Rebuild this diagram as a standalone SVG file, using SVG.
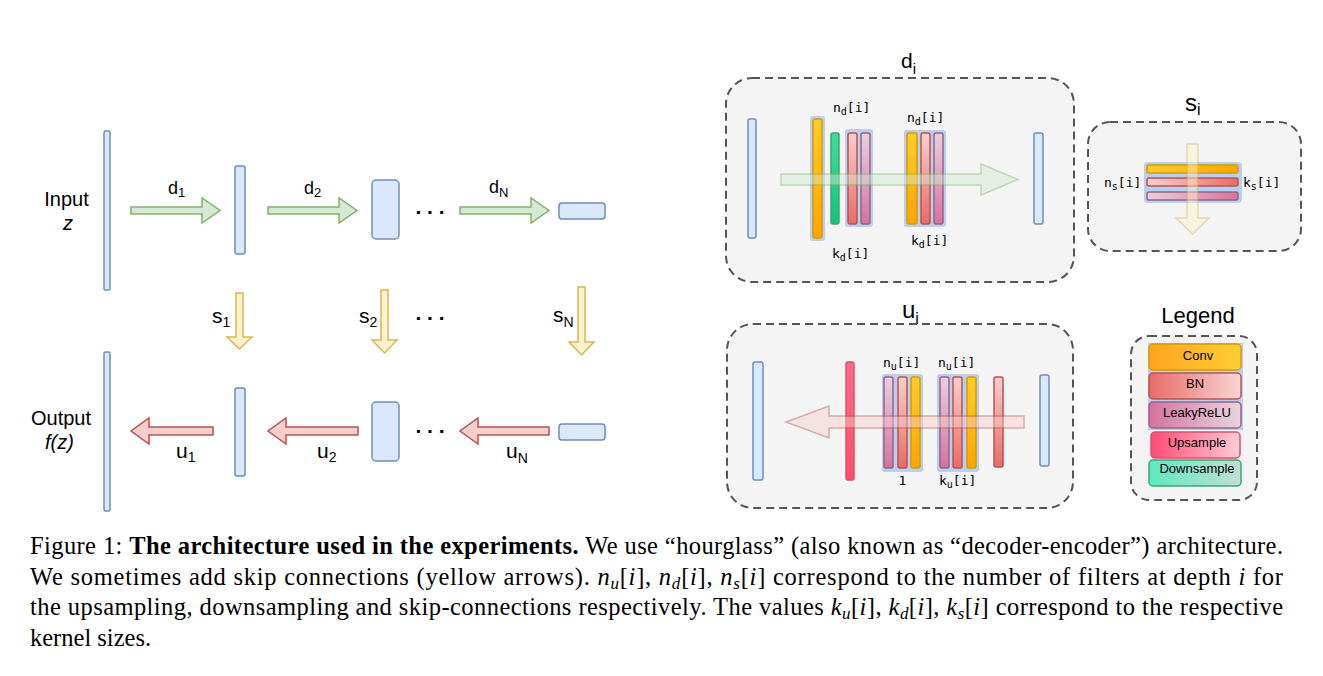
<svg xmlns="http://www.w3.org/2000/svg" width="1323" height="676" viewBox="0 0 1323 676">
<defs>
<style>
.blue{fill:#dae8fc;stroke:#6c8ebf;stroke-width:1.5}
.ga{fill:#d5e8d4;stroke:#82b366;stroke-width:1.5}
.ya{fill:#fff2cc;stroke:#d6b656;stroke-width:1.5}
.ra{fill:#f8cecc;stroke:#b85450;stroke-width:1.5}
.lbl{font-family:"Liberation Sans",Arial,sans-serif;fill:#000}
.mono{font-family:"DejaVu Sans Mono","Liberation Mono",monospace;font-size:13px;fill:#000}
.box{fill:#f4f4f4;stroke:#555;stroke-width:2;stroke-dasharray:8 5}
.hl{fill:#b9cff2}
.conv{stroke:#d79b00;stroke-width:1.5}
.bn{stroke:#b85450;stroke-width:1.5}
.lr{stroke:#996185;stroke-width:1.5}
.up{stroke:#d6536c;stroke-width:1.5}
.down{stroke:#3aa873;stroke-width:1.5}
.cap{font-family:"Liberation Serif","Times New Roman",serif;font-size:24.5px;fill:#000}
.it{font-style:italic}
.dots{font-family:"Liberation Sans",Arial,sans-serif;font-size:21px;font-weight:bold;fill:#000}
</style>
<linearGradient id="convV" x1="0" y1="0" x2="0" y2="1"><stop offset="0" stop-color="#ffcd28"/><stop offset="1" stop-color="#ffa500"/></linearGradient>
<linearGradient id="bnV" x1="0" y1="0" x2="0" y2="1"><stop offset="0" stop-color="#f8cecc"/><stop offset="1" stop-color="#ea6b66"/></linearGradient>
<linearGradient id="lrV" x1="0" y1="0" x2="0" y2="1"><stop offset="0" stop-color="#e6d0de"/><stop offset="1" stop-color="#d5739d"/></linearGradient>
<linearGradient id="downV" x1="0" y1="0" x2="0" y2="1"><stop offset="0" stop-color="#40dc98"/><stop offset="1" stop-color="#14c27e"/></linearGradient>
<linearGradient id="upV" x1="0" y1="0" x2="0" y2="1"><stop offset="0" stop-color="#ff6a86"/><stop offset="1" stop-color="#ff4d6e"/></linearGradient>
<linearGradient id="convH" x1="0" y1="0" x2="1" y2="0"><stop offset="0" stop-color="#ffcd28"/><stop offset="1" stop-color="#ffa500"/></linearGradient>
<linearGradient id="bnH" x1="0" y1="0" x2="1" y2="0"><stop offset="0" stop-color="#f8cecc"/><stop offset="1" stop-color="#ea6b66"/></linearGradient>
<linearGradient id="lrH" x1="0" y1="0" x2="1" y2="0"><stop offset="0" stop-color="#e6d0de"/><stop offset="1" stop-color="#d5739d"/></linearGradient>
<linearGradient id="convL" x1="0" y1="0" x2="1" y2="0"><stop offset="0" stop-color="#ffa520"/><stop offset="1" stop-color="#ffcd32"/></linearGradient>
<linearGradient id="bnL" x1="0" y1="0" x2="1" y2="0"><stop offset="0" stop-color="#ea6b66"/><stop offset="1" stop-color="#f8d6d4"/></linearGradient>
<linearGradient id="lrL" x1="0" y1="0" x2="1" y2="0"><stop offset="0" stop-color="#d5739d"/><stop offset="1" stop-color="#e8d4e0"/></linearGradient>
<linearGradient id="upL" x1="0" y1="0" x2="1" y2="0"><stop offset="0" stop-color="#ff4a74"/><stop offset="1" stop-color="#ffccd8"/></linearGradient>
<linearGradient id="downL" x1="0" y1="0" x2="1" y2="0"><stop offset="0" stop-color="#5ee8c0"/><stop offset="1" stop-color="#c2ded0"/></linearGradient>
</defs>
<rect width="1323" height="676" fill="#fff"/>

<!-- left network nodes -->
<g id="input">
<rect class="blue" x="104" y="131" width="6" height="159" rx="1.5"/>
<text class="lbl" x="66.5" y="206" font-size="20" text-anchor="middle">Input</text>
<text class="lbl it" x="68" y="230" font-size="20" text-anchor="middle">z</text>
</g>
<g id="enc1"><rect class="blue" x="235" y="166" width="10" height="88" rx="2"/></g>
<g id="enc2"><rect class="blue" x="372" y="180" width="27" height="59" rx="4"/></g>
<g id="encN"><rect class="blue" x="559" y="203" width="46" height="16" rx="3"/></g>
<g id="output">
<rect class="blue" x="104" y="352" width="6" height="159" rx="1.5"/>
<text class="lbl" x="61" y="425" font-size="20" text-anchor="middle">Output</text>
<text class="lbl it" x="59.5" y="449" font-size="20" text-anchor="middle">f(z)</text>
</g>
<g id="dec1"><rect class="blue" x="235" y="388" width="10" height="88" rx="2"/></g>
<g id="dec2"><rect class="blue" x="372" y="402" width="27" height="59" rx="4"/></g>
<g id="decN"><rect class="blue" x="559" y="424" width="46" height="16" rx="3"/></g>
<g id="ellipses">
<text class="dots" x="430" y="214" text-anchor="middle">. . .</text>
<text class="dots" x="430" y="320" text-anchor="middle">. . .</text>
<text class="dots" x="430" y="433" text-anchor="middle">. . .</text>
</g>

<!-- connectors -->
<g id="connectors">
<polygon class="ga" points="131,207 202,207 202,198 220,210.5 202,223 202,214 131,214"/>
<polygon class="ga" points="268,207 339,207 339,198 357,210.5 339,223 339,214 268,214"/>
<polygon class="ga" points="460,207 531,207 531,198 549,210.5 531,223 531,214 460,214"/>
<text class="lbl" x="168" y="194" font-size="18">d<tspan font-size="13" dy="3">1</tspan></text>
<text class="lbl" x="304" y="194" font-size="18">d<tspan font-size="13" dy="3">2</tspan></text>
<text class="lbl" x="489" y="193" font-size="18">d<tspan font-size="13" dy="4">N</tspan></text>

<polygon class="ya" points="236,293 243,293 243,337 252,337 239.5,349 227,337 236,337"/>
<polygon class="ya" points="381,290 388,290 388,340 397,340 384.5,353 372,340 381,340"/>
<polygon class="ya" points="578,287 585,287 585,342 594,342 581.5,355 569,342 578,342"/>
<text class="lbl" x="212" y="323" font-size="21">s<tspan font-size="14" dy="4">1</tspan></text>
<text class="lbl" x="359" y="323" font-size="21">s<tspan font-size="14" dy="4">2</tspan></text>
<text class="lbl" x="553" y="322" font-size="21">s<tspan font-size="14" dy="5">N</tspan></text>

<polygon class="ra" points="213,427 149,427 149,418 131,431 149,444 149,435 213,435"/>
<polygon class="ra" points="358,427 286,427 286,418 268,431 286,444 286,435 358,435"/>
<polygon class="ra" points="549,427 478,427 478,418 460,431 478,444 478,435 549,435"/>
<text class="lbl" x="176" y="458" font-size="21">u<tspan font-size="14" dy="4">1</tspan></text>
<text class="lbl" x="317" y="458" font-size="21">u<tspan font-size="14" dy="4">2</tspan></text>
<text class="lbl" x="506" y="458" font-size="21">u<tspan font-size="14" dy="5">N</tspan></text>
</g>

<!-- d_i panel -->
<g id="d_i">
<text class="lbl" x="901" y="68" font-size="21">d<tspan font-size="15" dy="6">i</tspan></text>
<rect class="box" x="726" y="78" width="348" height="204" rx="26"/>
<rect class="blue" x="748" y="119" width="8" height="119" rx="2"/>
<rect class="hl" x="810" y="116" width="15" height="125" rx="3"/>
<rect class="conv" fill="url(#convV)" x="813" y="119" width="9" height="119" rx="2"/>
<rect class="down" fill="url(#downV)" x="831" y="133" width="8" height="91" rx="2"/>
<rect class="hl" x="845" y="129" width="28" height="98" rx="3"/>
<rect class="bn" fill="url(#bnV)" x="848" y="133" width="9" height="91" rx="2"/>
<rect class="lr" fill="url(#lrV)" x="861" y="133" width="9" height="91" rx="2"/>
<rect class="hl" x="904" y="130" width="42" height="97" rx="3"/>
<rect class="conv" fill="url(#convV)" x="907" y="133" width="10" height="91" rx="2"/>
<rect class="bn" fill="url(#bnV)" x="921" y="133" width="9" height="91" rx="2"/>
<rect class="lr" fill="url(#lrV)" x="934" y="133" width="9" height="91" rx="2"/>
<rect class="blue" x="1034" y="133" width="9" height="91" rx="2"/>
<polygon class="ga" opacity="0.45" points="781,174 981,174 981,164 1018,179.5 981,195 981,185 781,185"/>
<text class="mono" x="833" y="112">n<tspan font-size="10" dy="3">d</tspan><tspan dy="-3">[i]</tspan></text>
<text class="mono" x="832" y="258">k<tspan font-size="10" dy="3">d</tspan><tspan dy="-3">[i]</tspan></text>
<text class="mono" x="907" y="122">n<tspan font-size="10" dy="3">d</tspan><tspan dy="-3">[i]</tspan></text>
<text class="mono" x="911" y="245">k<tspan font-size="10" dy="3">d</tspan><tspan dy="-3">[i]</tspan></text>
</g>

<!-- s_i panel -->
<g id="s_i">
<text class="lbl" x="1185" y="111" font-size="24">s<tspan font-size="16" dy="4">i</tspan></text>
<rect class="box" x="1088" y="122" width="213" height="129" rx="22"/>
<rect class="hl" x="1144" y="162" width="98" height="41" rx="4"/>
<rect class="conv" fill="url(#convH)" x="1147" y="165" width="91" height="8" rx="2"/>
<rect class="bn" fill="url(#bnH)" x="1147" y="178" width="91" height="8" rx="2"/>
<rect class="lr" fill="url(#lrH)" x="1147" y="192" width="91" height="8" rx="2"/>
<polygon class="ya" opacity="0.45" points="1187,144 1198,144 1198,218 1209,218 1192.5,234 1176,218 1187,218"/>
<text class="mono" x="1104" y="186.5">n<tspan font-size="10" dy="3">s</tspan><tspan dy="-3">[i]</tspan></text>
<text class="mono" x="1243" y="186.5">k<tspan font-size="10" dy="3">s</tspan><tspan dy="-3">[i]</tspan></text>
</g>

<!-- u_i panel -->
<g id="u_i">
<text class="lbl" x="902" y="318" font-size="24">u<tspan font-size="16" dy="6">i</tspan></text>
<rect class="box" x="727" y="324" width="346" height="184" rx="26"/>
<rect class="blue" x="753" y="362" width="10" height="118" rx="2"/>
<rect class="up" fill="url(#upV)" x="846" y="362" width="8" height="118" rx="2"/>
<rect class="hl" x="882" y="374" width="41" height="98" rx="3"/>
<rect class="lr" fill="url(#lrV)" x="884" y="377" width="9" height="91" rx="2"/>
<rect class="bn" fill="url(#bnV)" x="898" y="377" width="9" height="91" rx="2"/>
<rect class="conv" fill="url(#convV)" x="911" y="377" width="9" height="91" rx="2"/>
<rect class="hl" x="937" y="374" width="42" height="98" rx="3"/>
<rect class="lr" fill="url(#lrV)" x="940" y="377" width="9" height="91" rx="2"/>
<rect class="bn" fill="url(#bnV)" x="953" y="377" width="9" height="91" rx="2"/>
<rect class="conv" fill="url(#convV)" x="967" y="377" width="9" height="91" rx="2"/>
<rect class="bn" fill="url(#bnV)" x="994" y="377" width="9" height="90" rx="2"/>
<rect class="blue" x="1040" y="375" width="9" height="91" rx="2"/>
<polygon class="ra" opacity="0.45" points="1024,416 829,416 829,406 786,422 829,438 829,428 1024,428"/>
<text class="mono" x="883" y="367">n<tspan font-size="10" dy="3">u</tspan><tspan dy="-3">[i]</tspan></text>
<text class="mono" x="938" y="367">n<tspan font-size="10" dy="3">u</tspan><tspan dy="-3">[i]</tspan></text>
<text class="mono" x="902.5" y="485" text-anchor="middle">1</text>
<text class="mono" x="939" y="485">k<tspan font-size="10" dy="3">u</tspan><tspan dy="-3">[i]</tspan></text>
</g>

<!-- legend -->
<g id="legend">
<text class="lbl" x="1198" y="323" font-size="22" text-anchor="middle">Legend</text>
<rect class="box" x="1131" y="336" width="126" height="164" rx="18"/>
<rect class="hl" x="1148" y="343" width="95" height="87"/>
<rect class="conv" fill="url(#convL)" x="1149" y="344" width="92" height="26" rx="4"/>
<rect class="bn" fill="url(#bnL)" x="1149" y="373" width="92" height="26" rx="4"/>
<rect class="lr" fill="url(#lrL)" x="1149" y="402" width="92" height="26" rx="4"/>
<rect class="up" fill="url(#upL)" x="1151" y="432" width="89" height="26" rx="4"/>
<rect class="down" fill="url(#downL)" x="1149" y="460" width="92" height="26" rx="4"/>
<text class="lbl" x="1198" y="360" font-size="13" text-anchor="middle">Conv</text>
<text class="lbl" x="1195" y="388" font-size="13" text-anchor="middle">BN</text>
<text class="lbl" x="1197" y="417" font-size="13" text-anchor="middle">LeakyReLU</text>
<text class="lbl" x="1197" y="447" font-size="13" text-anchor="middle">Upsample</text>
<text class="lbl" x="1197" y="473" font-size="13" text-anchor="middle">Downsample</text>
</g>

<!-- caption -->
<g id="caption">
<text class="cap" x="30" y="554" textLength="1253" lengthAdjust="spacing">Figure 1: <tspan font-weight="bold">The architecture used in the experiments.</tspan> We use “hourglass” (also known as “decoder-encoder”) architecture.</text>
<text class="cap" x="30" y="584.5" textLength="1253" lengthAdjust="spacing">We sometimes add skip connections (yellow arrows). <tspan class="it">n</tspan><tspan class="it" font-size="17" dy="4">u</tspan><tspan dy="-4">[</tspan><tspan class="it">i</tspan>], <tspan class="it">n</tspan><tspan class="it" font-size="17" dy="4">d</tspan><tspan dy="-4">[</tspan><tspan class="it">i</tspan>], <tspan class="it">n</tspan><tspan class="it" font-size="17" dy="4">s</tspan><tspan dy="-4">[</tspan><tspan class="it">i</tspan>] correspond to the number of filters at depth <tspan class="it">i</tspan> for</text>
<text class="cap" x="30" y="615" textLength="1253" lengthAdjust="spacing">the upsampling, downsampling and skip-connections respectively. The values <tspan class="it">k</tspan><tspan class="it" font-size="17" dy="4">u</tspan><tspan dy="-4">[</tspan><tspan class="it">i</tspan>], <tspan class="it">k</tspan><tspan class="it" font-size="17" dy="4">d</tspan><tspan dy="-4">[</tspan><tspan class="it">i</tspan>], <tspan class="it">k</tspan><tspan class="it" font-size="17" dy="4">s</tspan><tspan dy="-4">[</tspan><tspan class="it">i</tspan>] correspond to the respective</text>
<text class="cap" x="30" y="645.5">kernel sizes.</text>
</g>
</svg>
